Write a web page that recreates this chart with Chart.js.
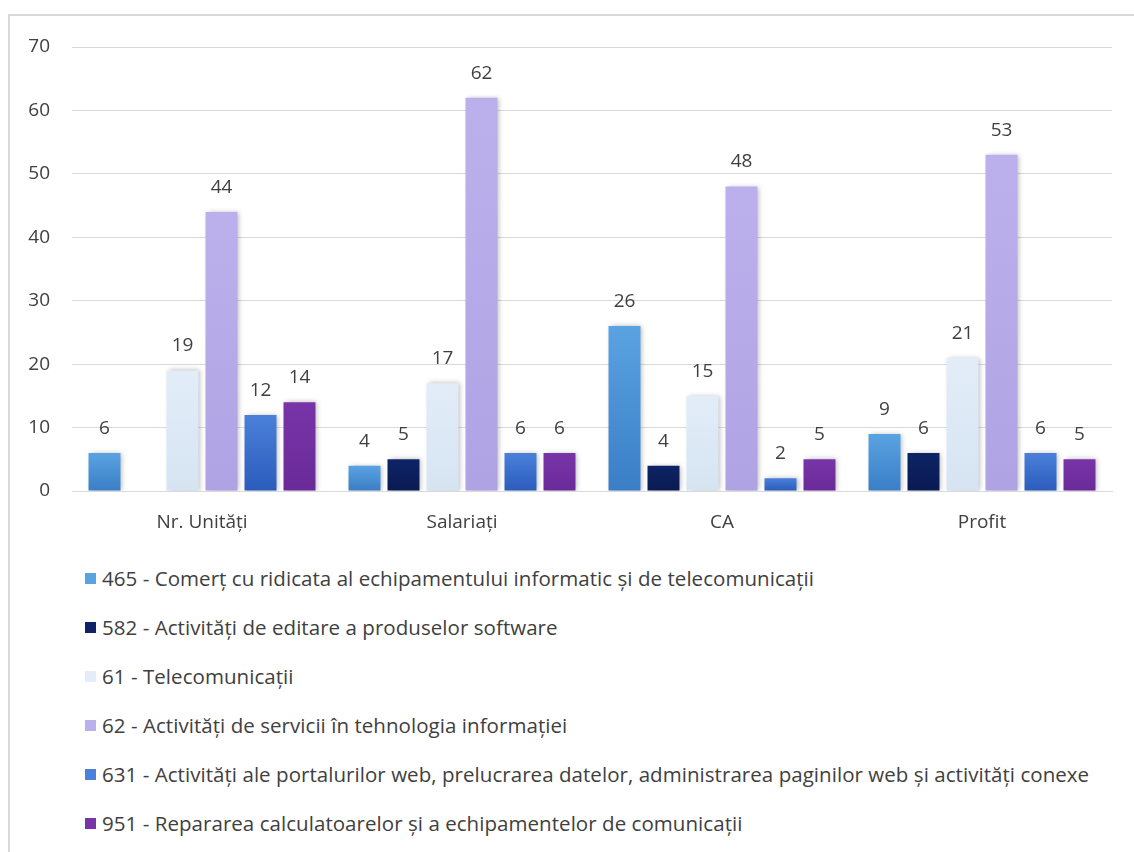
<!DOCTYPE html>
<html>
<head>
<meta charset="utf-8">
<script src="https://cdn.jsdelivr.net/npm/chart.js@4"></script>
<style>
  body { margin: 0; background: #fff; font-family: "Open Sans", sans-serif; }
  #frame { position: absolute; left: 8px; top: 14px; width: 1140px; height: 850px; border: 2px solid #d9d9d9; box-sizing: border-box; }
  #wrap { position: absolute; left: 0; top: 0; width: 1134px; height: 545px; }
  #legend { position: absolute; left: 85px; top: 566px; margin: 0; padding: 0; list-style: none; }
  #legend li { height: 49px; line-height: 24px; font-size: 20.5px; color: #404040; display: flex; align-items: flex-start; white-space: nowrap; letter-spacing: 0.05px; }
  #legend span.box { width: 11px; height: 11px; margin-right: 6px; margin-top: 7px; flex: none; }
</style>
</head>
<body>
<div id="frame"></div>
<div id="wrap"><canvas id="chart"></canvas></div>
<ul id="legend"></ul>
<script>
// kategorii si serii
const categories = ['Nr. Unități', 'Salariați', 'CA', 'Profit'];
const seriesNames = [
  '465 - Comerț cu ridicata al echipamentului informatic și de telecomunicații',
  '582 - Activități de editare a produselor software',
  '61 - Telecomunicații',
  '62 - Activități de servicii în tehnologia informației',
  '631 - Activități ale portalurilor web, prelucrarea datelor, administrarea paginilor web și activități conexe',
  '951 - Repararea calculatoarelor și a echipamentelor de comunicații'
];
const s465 = [6, 4, 26, 9];
const s582 = [null, 5, 4, 6];
const s61 = [19, 17, 15, 21];
const s62 = [44, 62, 48, 53];
const s631 = [12, 6, 2, 6];
const s951 = [14, 6, 5, 5];
const yTicks = [0, 10, 20, 30, 40, 50, 60, 70];

const colors = [
  ['#5aa3e2', '#3a7ec6'],
  ['#0e2466', '#0a1a52'],
  ['#e2edf8', '#d6e4f2'],
  ['#bcb0ec', '#b0a3e4'],
  ['#4a80da', '#2b5cbc'],
  ['#7834a8', '#6a2a98']
];

function grad(i) {
  return function (ctx) {
    const chart = ctx.chart;
    if (!chart.chartArea || ctx.raw == null) return colors[i][0];
    const y = chart.scales.y;
    const top = y.getPixelForValue(ctx.raw);
    const bottom = y.getPixelForValue(0);
    if (!(bottom > top)) return colors[i][0];
    const g = chart.ctx.createLinearGradient(0, top, 0, bottom);
    g.addColorStop(0, colors[i][0]);
    g.addColorStop(1, colors[i][1]);
    return g;
  };
}

const allSeries = [s465, s582, s61, s62, s631, s951];

// umbra pe bare
const shadow = {
  id: 'shadow',
  beforeDatasetsDraw(chart) {
    const c = chart.ctx;
    c.save();
    c.shadowColor = 'rgba(0,0,0,0.28)';
    c.shadowBlur = 5;
    c.shadowOffsetX = 2;
    c.shadowOffsetY = 0;
  },
  afterDatasetsDraw(chart) {
    chart.ctx.restore();
  }
};

// etichete valori deasupra barelor
const valueLabels = {
  id: 'valueLabels',
  afterDatasetsDraw(chart) {
    const c = chart.ctx;
    c.save();
    c.font = '19px "Open Sans", sans-serif';
    c.fillStyle = '#404040';
    c.textAlign = 'center';
    c.textBaseline = 'bottom';
    chart.data.datasets.forEach((ds, i) => {
      chart.getDatasetMeta(i).data.forEach((bar, j) => {
        const v = ds.data[j];
        if (v == null) return;
        c.fillText(String(v), bar.x, bar.y - 15);
      });
    });
    c.restore();
  }
};

new Chart(document.getElementById('chart'), {
  type: 'bar',
  data: {
    labels: categories,
    datasets: allSeries.map((d, i) => ({
      label: seriesNames[i],
      data: d,
      backgroundColor: grad(i),
      borderWidth: 0,
      categoryPercentage: 0.9,
      barPercentage: 0.82
    }))
  },
  options: {
    responsive: true,
    maintainAspectRatio: false,
    animation: false,
    layout: { padding: { left: 10, right: 22, top: 47, bottom: 10 } },
    plugins: {
      legend: { display: false },
      tooltip: { enabled: false }
    },
    scales: {
      x: {
        grid: { display: false, drawTicks: false },
        border: { display: true, color: '#d9d9d9' },
        ticks: { padding: 20, color: '#404040', font: { family: 'Open Sans', size: 19 } },
        afterFit(scale) { scale.height = 44; }
      },
      y: {
        min: 0,
        max: 70,
        afterBuildTicks(scale) { scale.ticks = yTicks.map(v => ({ value: v })); },
        grid: { color: '#d9d9d9', drawTicks: false },
        border: { display: false },
        ticks: { padding: 22, color: '#404040', font: { family: 'Open Sans', size: 19 } },
        afterFit(scale) { scale.width = 62; }
      }
    }
  },
  plugins: [shadow, valueLabels]
});

// legenda verticala
const ul = document.getElementById('legend');
seriesNames.forEach((name, i) => {
  const li = document.createElement('li');
  const box = document.createElement('span');
  box.className = 'box';
  box.style.background = colors[i][0];
  li.appendChild(box);
  li.appendChild(document.createTextNode(name));
  ul.appendChild(li);
});
</script>
</body>
</html>
